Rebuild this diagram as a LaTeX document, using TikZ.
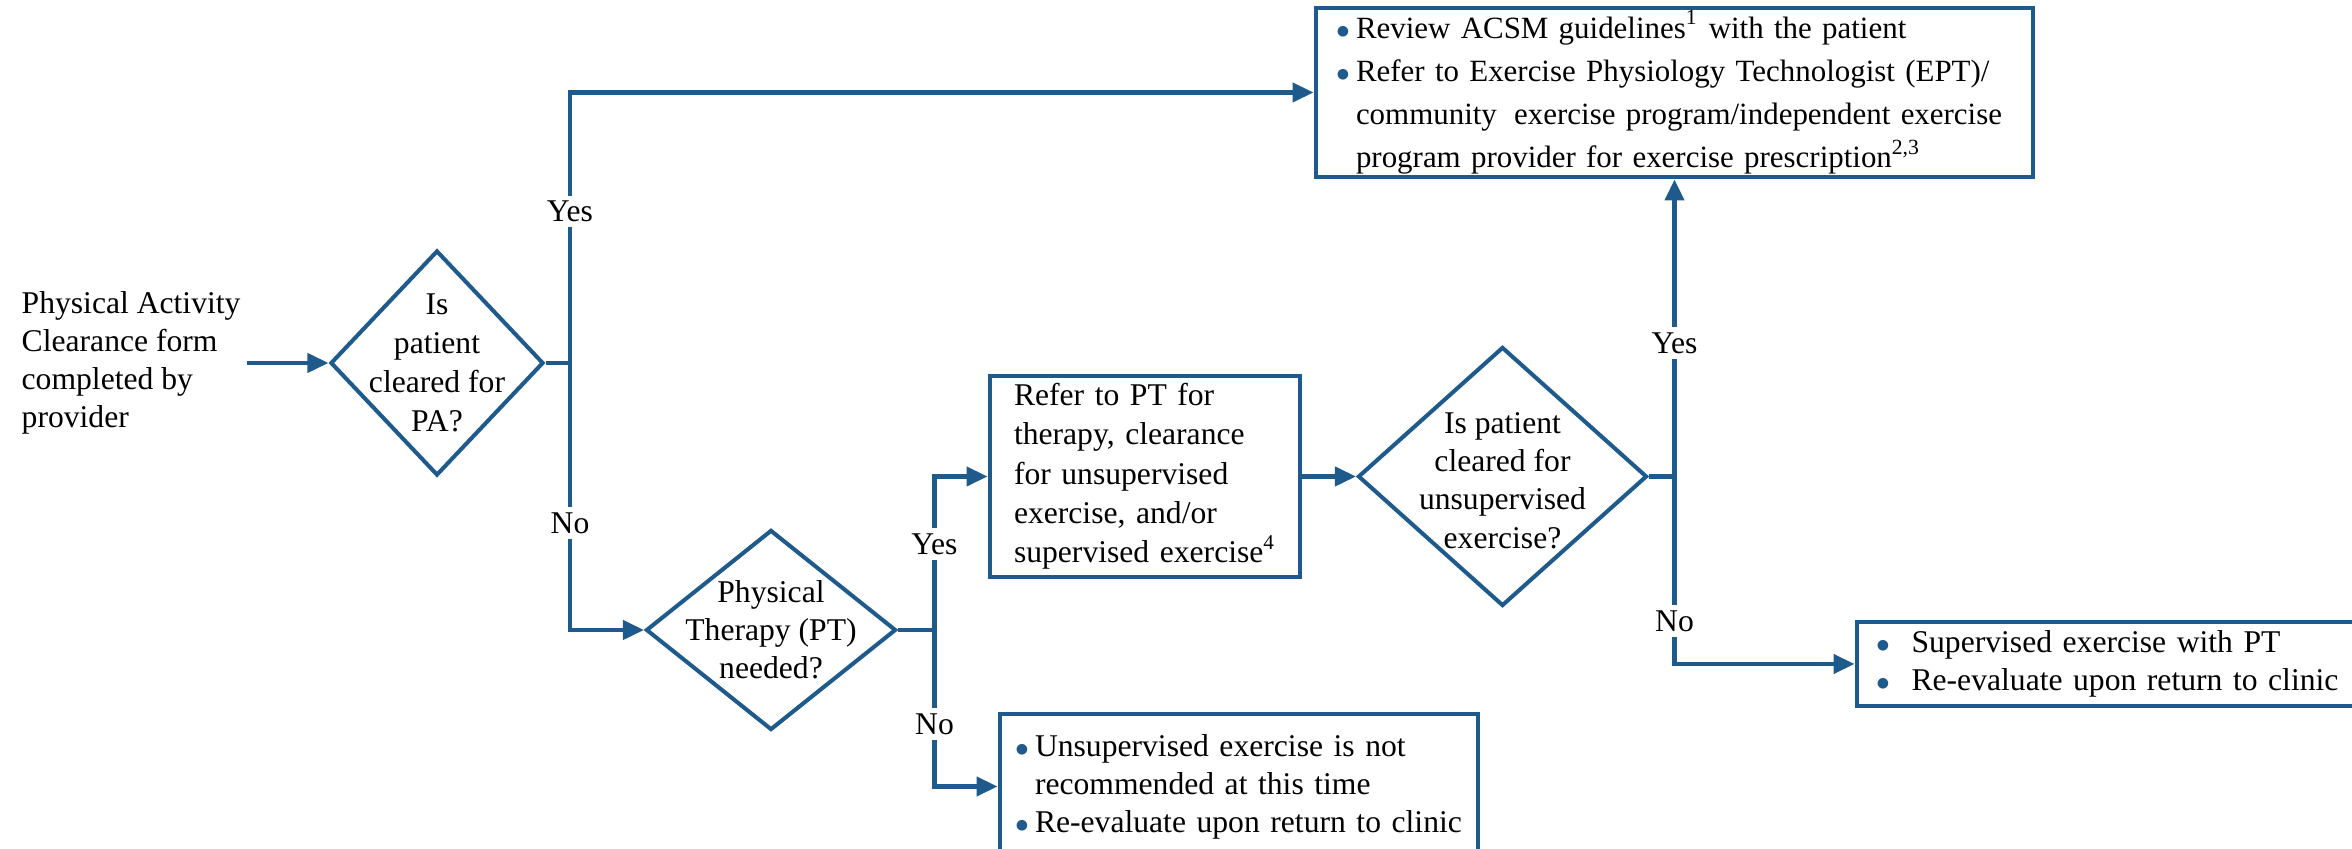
\documentclass[tikz,border=0pt]{standalone}
\usepackage{fontspec}
\setmainfont{Liberation Serif}
\usepackage{graphicx}
\usepackage{tikz}
\usetikzlibrary{shapes.geometric,arrows.meta}
\definecolor{pablue}{RGB}{31,90,140}
\newcommand{\bul}[1][0.2cm]{\makebox[#1][l]{\textcolor{pablue}{\scalebox{0.85}{$\bullet$}}}}
\newcommand{\bulind}[1][0.2cm]{\hspace*{#1}}

\begin{document}
\begin{tikzpicture}[
    every node/.style={font=\fontsize{9}{10.8}\selectfont},
    line/.style={pablue, line width=1.15pt},
    arr/.style={line, -{Triangle[length=2.1mm,width=1.9mm]}},
    box/.style={draw=pablue, line width=1.4pt, align=left, inner ysep=0.5pt},
    dia/.style={diamond, draw=pablue, line width=1.15pt, inner sep=0pt},
    lab/.style={fill=white, text=black, inner sep=1.5pt}
]
\useasboundingbox (0,0) rectangle (23.52,8.49);

\node[anchor=west, align=left, inner xsep=0.06cm] (start) at (0.15,4.86) {Physical Activity\\Clearance form\\completed by\\provider};
\node[dia, minimum width=2.13cm, minimum height=2.25cm] (d1) at (4.37,4.86) {};
\node[align=center, font=\fontsize{9}{11.1}\selectfont] (d1txt) at (d1) {Is\\patient\\cleared for\\PA?};
\node[dia, minimum width=2.50cm, minimum height=2.00cm] (d2) at (7.71,2.19) {};
\node[align=center] (d2txt) at (d2) {Physical\\Therapy (PT)\\needed?};
\node[dia, minimum width=2.89cm, minimum height=2.59cm] (d3) at (15.025,3.725) {};
\node[align=center, font=\fontsize{9}{10.9}\selectfont] (d3txt) at ([yshift=-0.04cm]d3) {Is patient\\cleared for\\unsupervised\\exercise?};

\node[box, text width=6.77cm, inner xsep=0.2cm, minimum height=1.69cm, font=\fontsize{8.8}{12.3}\selectfont] (tb) at (16.745,7.565) {\bul Review ACSM guidelines\textsuperscript{1} with the patient\\
\bul Refer to Exercise Physiology Technologist (EPT)/\\
\bulind community\hspace{2pt} exercise program/independent exercise\\
\bulind program provider for exercise prescription\textsuperscript{2,3}};
\node[box, text width=2.62cm, inner xsep=0.24cm, minimum height=2.01cm, font=\fontsize{9}{11.2}\selectfont] (b2) at (11.45,3.725) {Refer to PT for\\therapy, clearance\\for unsupervised\\exercise, and/or\\supervised exercise\textsuperscript{4}};
\node[box, text width=4.48cm, inner xsep=0.15cm, minimum height=1.45cm] (b3) at (12.39,0.625) {\bul Unsupervised exercise is not\\
\bulind recommended at this time\\
\bul Re-evaluate upon return to clinic};
\node[box, text width=4.7cm, inner xsep=0.19cm, minimum height=0.84cm] (b4) at (21.11,1.85) {\bul[0.25cm] Supervised exercise with PT\\
\bul[0.25cm] Re-evaluate upon return to clinic};

\coordinate (j1) at (5.70,4.86);
\coordinate (j2) at (9.345,2.19);
\coordinate (j3) at (16.745,3.725);

\draw[arr] (start.east) -- (d1.west);
\draw[line] (d1.east) -- (j1);
\draw[arr] (j1) |- node[lab, pos=0.28] (yes1) {Yes} (tb.west);
\draw[arr] (j1) |- node[lab, pos=0.30] (no1) {No} (d2.west);
\draw[line] (d2.east) -- (j2);
\draw[arr] (j2) |- node[lab, pos=0.28] (yes2) {Yes} (b2.west);
\draw[arr] (j2) |- node[lab, pos=0.30] (no2) {No} (b3.west);
\draw[arr] (b2.east) -- (d3.west);
\draw[line] (d3.east) -- (j3);
\draw[arr] (j3) -- node[lab, pos=0.45] (yes3) {Yes} (tb.south);
\draw[arr] (j3) |- node[lab, pos=0.385] (no3) {No} (b4.west);
\end{tikzpicture}
\end{document}
